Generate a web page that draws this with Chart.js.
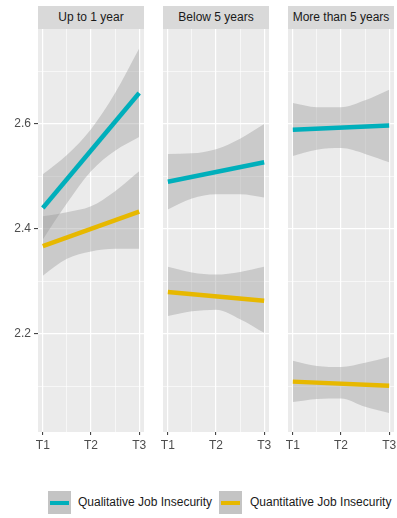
<!DOCTYPE html>
<html>
<head>
<meta charset="utf-8">
<script src="https://cdn.jsdelivr.net/npm/chart.js@4.4.1/dist/chart.umd.min.js"></script>
<style>
  body { margin: 0; background: #fff; font-family: "Liberation Sans", Arial, sans-serif; }
  #wrap { position: relative; width: 397px; height: 518px; overflow: hidden; }
  .panel { position: absolute; top: 29px; }
  .strip { position: absolute; top: 6px; height: 23px; line-height: 23px; background: #d9d9d9;
           color: #1a1a1a; font-size: 12px; text-align: center; white-space: nowrap; }
  .key { position: absolute; top: 491px; width: 23px; height: 23px; background: #c4c4c4; }
  .key span { position: absolute; left: 2px; top: 9.5px; width: 19px; height: 4px; }
  .ktext { position: absolute; top: 495px; font-size: 12px; color: #1a1a1a; white-space: nowrap; }
</style>
</head>
<body>
<div id="wrap">
  <div class="strip" style="left:38px;width:106px">Up to 1 year</div>
  <div class="strip" style="left:163px;width:106px">Below 5 years</div>
  <div class="strip" style="left:288px;width:106px">More than 5 years</div>

  <canvas id="p0" class="panel" width="152" height="431" style="left:0px"></canvas>
  <canvas id="p1" class="panel" width="122" height="431" style="left:155px"></canvas>
  <canvas id="p2" class="panel" width="117" height="431" style="left:280px"></canvas>

  <div class="key" style="left:48px"><span style="background:#00afbb"></span></div>
  <div class="ktext" style="left:78px">Qualitative Job Insecurity</div>
  <div class="key" style="left:219px"><span style="background:#e7b800"></span></div>
  <div class="ktext" style="left:250px">Quantitative Job Insecurity</div>
</div>

<script>
// Tenure groups and measurement waves
const groups = ['Up to 1 year', 'Below 5 years', 'More than 5 years'];
const timeLabels = ['T1', 'T2', 'T3'];
const timeX = [1, 2, 3];

// Fitted lines (value at T1 and T3) per group
const qualFit = [[2.440, 2.659], [2.490, 2.527], [2.589, 2.597]];
const quantFit = [[2.367, 2.433], [2.280, 2.263], [2.109, 2.101]];

// Confidence bands, sampled at these x positions
const bandX = [1, 1.5, 2, 2.5, 3];
const qualLow = [
  [2.380, 2.449, 2.510, 2.549, 2.575],
  [2.437, 2.458, 2.466, 2.466, 2.460],
  [2.539, 2.551, 2.554, 2.543, 2.527]
];
const qualHigh = [
  [2.504, 2.541, 2.590, 2.659, 2.744],
  [2.543, 2.544, 2.552, 2.572, 2.600],
  [2.640, 2.632, 2.632, 2.645, 2.665]
];
const quantLow = [
  [2.311, 2.343, 2.357, 2.362, 2.362],
  [2.234, 2.243, 2.246, 2.228, 2.202],
  [2.070, 2.076, 2.077, 2.061, 2.049]
];
const quantHigh = [
  [2.424, 2.432, 2.443, 2.472, 2.510],
  [2.328, 2.317, 2.313, 2.318, 2.328],
  [2.149, 2.139, 2.137, 2.145, 2.156]
];

// Axis ticks
const yMajor = [2.2, 2.4, 2.6];
const yGrid = [2.1, 2.2, 2.3, 2.4, 2.5, 2.6, 2.7];
const xGrid = [1, 1.5, 2, 2.5, 3];

// room on each side of a panel so the T1/T3 labels are not cut
const sidePad = [{ left: 0, right: 8 }, { left: 8, right: 8 }, { left: 8, right: 3 }];

const FONT = { family: '"Liberation Sans", Arial, sans-serif', size: 12 };
const TEAL = '#00afbb';
const GOLD = '#e7b800';
const BAND = 'rgba(153,153,153,0.4)';

const isIn = (arr, v) => arr.some(a => Math.abs(a - v) < 1e-6);

// grey panel background behind the grid
const panelBg = {
  id: 'panelBg',
  beforeDraw(chart) {
    const { ctx, chartArea: a } = chart;
    ctx.save();
    ctx.fillStyle = '#ebebeb';
    ctx.fillRect(a.left, a.top, a.right - a.left, a.bottom - a.top);
    ctx.restore();
  }
};

function pts(xs, ys) {
  return xs.map((x, k) => ({ x: x, y: ys[k] }));
}

function bandSets(low, high) {
  const base = { borderWidth: 0, pointRadius: 0, cubicInterpolationMode: 'monotone', order: 2 };
  return [
    Object.assign({ data: pts(bandX, low), fill: false }, base),
    Object.assign({ data: pts(bandX, high), fill: '-1', backgroundColor: BAND }, base)
  ];
}

function lineSet(fit, color) {
  return {
    data: pts([timeX[0], timeX[2]], fit),
    borderColor: color,
    borderWidth: 4.5,
    pointRadius: 0,
    fill: false,
    order: 0
  };
}

function makePanel(i) {
  const showY = i === 0;
  const datasets = []
    .concat(bandSets(quantLow[i], quantHigh[i]))
    .concat(bandSets(qualLow[i], qualHigh[i]))
    .concat([lineSet(qualFit[i], TEAL), lineSet(quantFit[i], GOLD)]);

  new Chart(document.getElementById('p' + i), {
    type: 'line',
    data: { datasets: datasets },
    plugins: [panelBg],
    options: {
      responsive: false,
      animation: false,
      devicePixelRatio: 1,
      layout: { padding: { left: sidePad[i].left, right: sidePad[i].right, top: 0, bottom: 0 } },
      plugins: { legend: { display: false }, tooltip: { enabled: false } },
      scales: {
        x: {
          type: 'linear',
          min: 0.9,
          max: 3.1,
          afterBuildTicks: s => { s.ticks = xGrid.map(v => ({ value: v })); },
          afterFit: s => { s.height = 28; s.paddingLeft = 0; s.paddingRight = 0; },
          border: { display: false },
          grid: {
            color: '#fff',
            lineWidth: c => (c.tick && isIn(timeX, c.tick.value)) ? 1.2 : 0.6,
            tickLength: 3,
            tickWidth: 1,
            tickColor: c => (c.tick && isIn(timeX, c.tick.value)) ? '#333' : 'rgba(0,0,0,0)'
          },
          ticks: {
            padding: 3,
            color: '#4d4d4d',
            font: FONT,
            maxRotation: 0,
            autoSkip: false,
            callback: v => isIn(timeX, v) ? timeLabels[Math.round(v) - 1] : ''
          }
        },
        y: {
          type: 'linear',
          min: 2.013,
          max: 2.781,
          afterBuildTicks: s => { s.ticks = yGrid.map(v => ({ value: v })); },
          afterFit: s => { s.width = showY ? 38 : 0; s.paddingTop = 0; s.paddingBottom = 0; },
          border: { display: false },
          grid: {
            color: '#fff',
            lineWidth: c => (c.tick && isIn(yMajor, c.tick.value)) ? 1.2 : 0.6,
            drawTicks: showY,
            tickLength: showY ? 4 : 0,
            tickWidth: 1,
            tickColor: c => (c.tick && isIn(yMajor, c.tick.value)) ? '#333' : 'rgba(0,0,0,0)'
          },
          ticks: {
            display: showY,
            padding: 3,
            color: '#4d4d4d',
            font: FONT,
            autoSkip: false,
            callback: v => isIn(yMajor, v) ? v.toFixed(1) : ''
          }
        }
      }
    }
  });
}

groups.forEach((g, i) => makePanel(i));
</script>
</body>
</html>
